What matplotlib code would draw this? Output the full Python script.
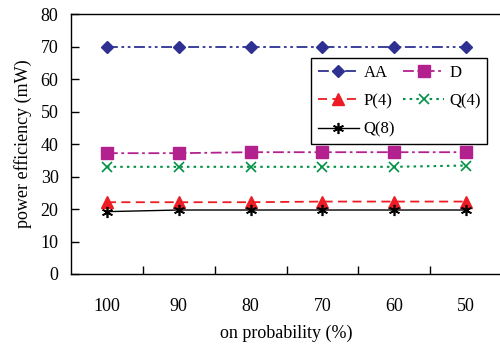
import matplotlib
matplotlib.use("Agg")
import matplotlib.pyplot as plt
import numpy as np

categories = ["100", "90", "80", "70", "60", "50"]
aa = [70, 70, 70, 70, 70, 70]
d = [37.2, 37.2, 37.5, 37.5, 37.5, 37.5]
p4 = [22.1, 22.1, 22.1, 22.3, 22.3, 22.3]
q4 = [33.0, 33.0, 33.0, 33.0, 33.0, 33.4]
q8 = [19.2, 19.7, 19.7, 19.7, 19.7, 19.7]

plt.rcParams['font.family'] = ['Liberation Serif', 'DejaVu Serif']

fig = plt.figure(figsize=(5.0, 3.54), dpi=100)
ax = fig.add_axes([0.142, 0.226, 0.862, 0.734])

x = np.arange(len(categories))

# series
h_aa, = ax.plot(x, aa, color='#2e3192', lw=1.3, dashes=(6, 2, 1.5, 2, 1.5, 2),
                marker='D', ms=6, label='AA')
h_d, = ax.plot(x, d, color='#b3218f', lw=1.3, dashes=(6, 2, 1.5, 2),
               marker='s', ms=8, label='D')
h_p4, = ax.plot(x, p4, color='#ed1c24', lw=1.3, dashes=(5, 3),
                marker='^', ms=8, label='P(4)')
h_q4, = ax.plot(x, q4, color='#009245', lw=1.5, dashes=(1.2, 2),
                marker='x', ms=7, mew=1.2, label='Q(4)')
h_q8, = ax.plot(x, q8, color='black', lw=1.0,
                marker=(6, 2, 0), ms=8, mew=1.2, label='Q(8)')

ax.set_xlim(-0.5, len(categories) - 0.5)
ax.set_ylim(0, 80)
ax.set_yticks(range(0, 81, 10))
ax.set_xticks(x)
ax.set_xticklabels(categories)
ax.set_xticks(x[:-1] + 0.5, minor=True)

ax.tick_params(axis='x', which='major', length=0, pad=17, labelsize=13)
ax.tick_params(axis='x', which='minor', direction='in', length=6, width=1)
ax.tick_params(axis='y', direction='in', length=6, width=1, pad=9, labelsize=13)

for s in ax.spines.values():
    s.set_linewidth(1.0)

ax.set_xlabel("on probability (%)", fontsize=13, labelpad=7)
ax.set_ylabel("power efficiency (mW)", fontsize=13, labelpad=6)

leg = ax.legend([h_aa, h_p4, h_q8, h_d, h_q4],
                ['AA', 'P(4)', 'Q(8)', 'D', 'Q(4)'],
                ncol=2, loc='upper left', bbox_to_anchor=(0.557, 0.831),
                borderaxespad=0, fontsize=12, handlelength=2.45,
                handletextpad=0.3, columnspacing=0.5, labelspacing=0.75,
                borderpad=0.4, fancybox=False, framealpha=1, edgecolor='black')
leg.get_frame().set_linewidth(1.0)

fig.savefig("out.png", dpi=100)
